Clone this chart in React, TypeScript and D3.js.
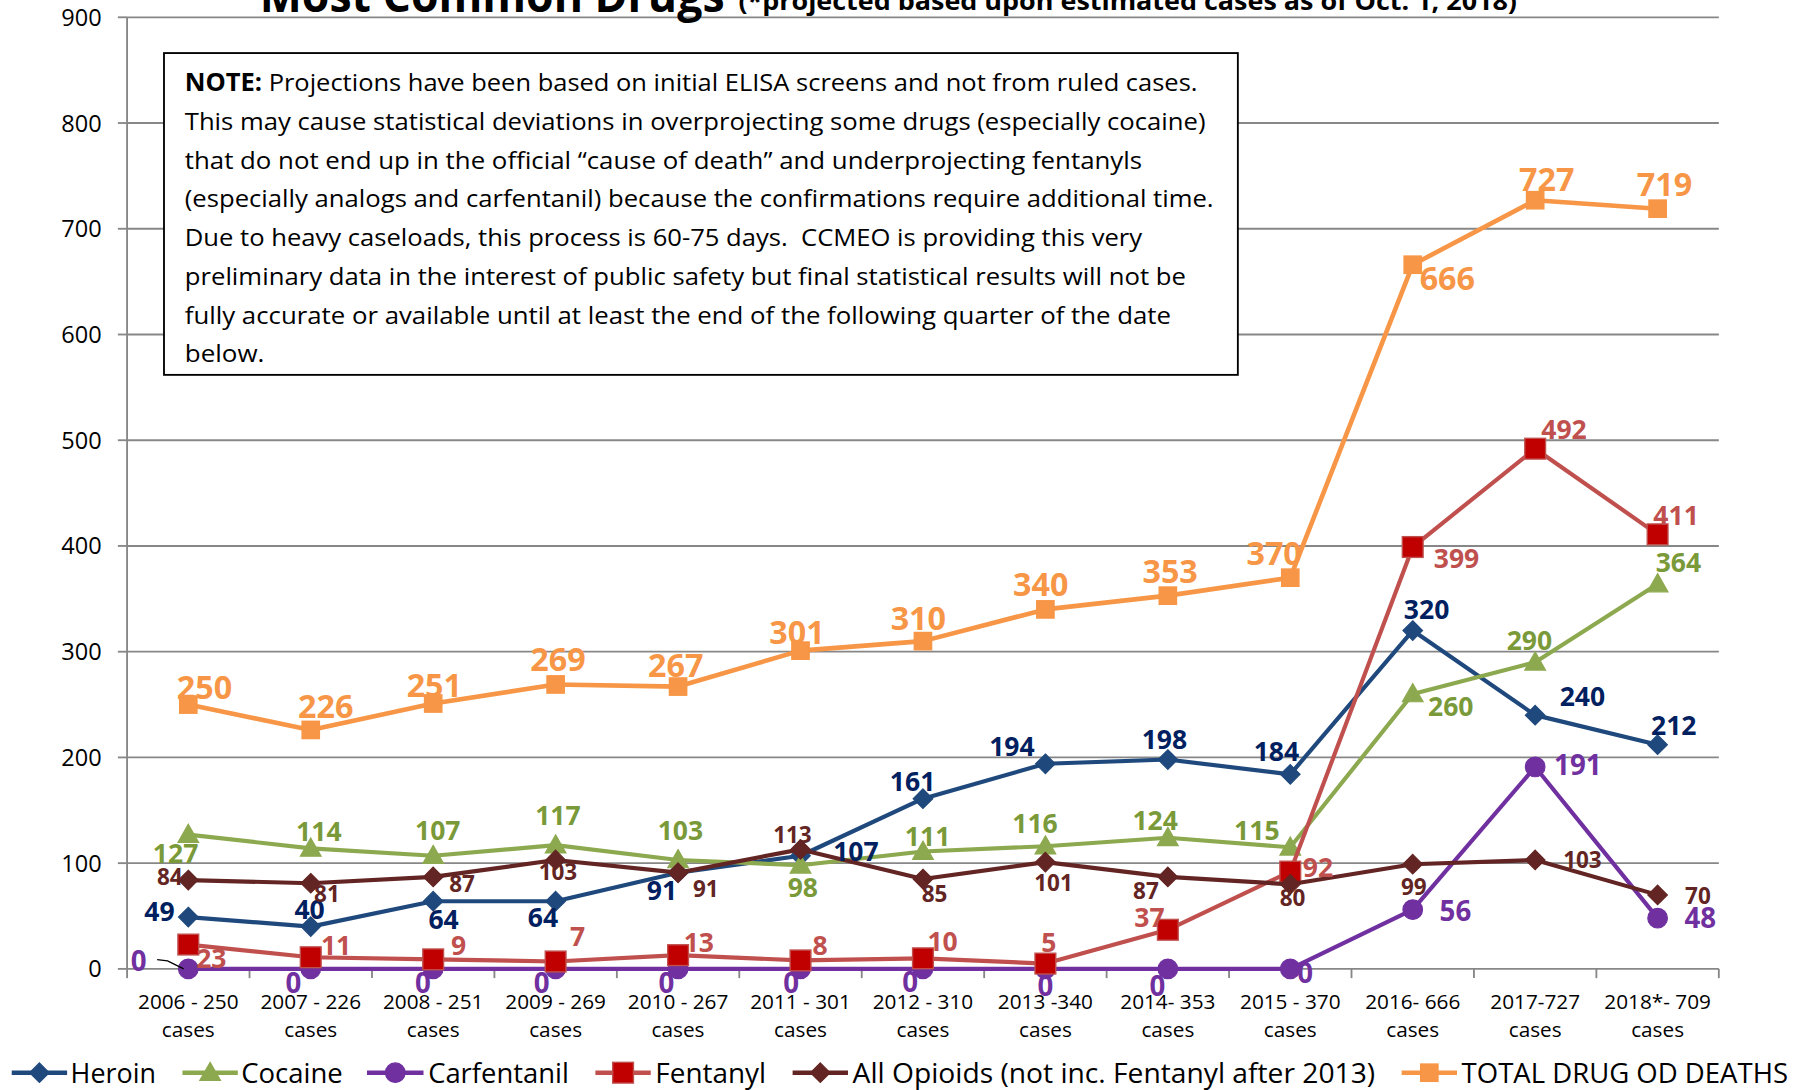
import React from "react";
import * as d3 from "d3";

// ---------- data ----------
const categoryYears = ["2006 - 250", "2007 - 226", "2008 - 251", "2009 - 269", "2010 - 267", "2011 - 301", "2012 - 310", "2013 -340", "2014- 353", "2015 - 370", "2016- 666", "2017-727", "2018*- 709"];
const categorySuffix = "cases";

const heroin = [49, 40, 64, 64, 91, 107, 161, 194, 198, 184, 320, 240, 212];
const cocaine = [127, 114, 107, 117, 103, 98, 111, 116, 124, 115, 260, 290, 364];
const carfentanil = [0, 0, 0, 0, 0, 0, 0, 0, 0, 0, 56, 191, 48];
const fentanyl = [23, 11, 9, 7, 13, 8, 10, 5, 37, 92, 399, 492, 411];
const allOpioids = [84, 81, 87, 103, 91, 113, 85, 101, 87, 80, 99, 103, 70];
const totalDeaths = [250, 226, 251, 269, 267, 301, 310, 340, 353, 370, 666, 727, 719];

const yTicks = [0, 100, 200, 300, 400, 500, 600, 700, 800, 900];

const titleMain = "Most Common Drugs";
const titleSub = "(*projected based upon estimated cases as of Oct. 1, 2018)";

const noteLines = [
  ["NOTE:", " Projections have been based on initial ELISA screens and not from ruled cases."],
  ["", "This may cause statistical deviations in overprojecting some drugs (especially cocaine)"],
  ["", "that do not end up in the official \u201Ccause of death\u201D and underprojecting fentanyls"],
  ["", "(especially analogs and carfentanil) because the confirmations require additional time."],
  ["", "Due to heavy caseloads, this process is 60-75 days.\u00A0 CCMEO is providing this very"],
  ["", "preliminary data in the interest of public safety but final statistical results will not be"],
  ["", "fully accurate or available until at least the end of the following quarter of the date"],
  ["", "below."],
];

// ---------- layout / style (display units of a 1568x945 viewBox) ----------
const noteLineLengths = [878, 885, 830, 892, 830, 868, 855, 69];

const heroinLabelOff = [[-25, -5], [-1, -15], [9, 16], [-11, 14], [-14, 15], [48, -4], [-9, -15], [-29, -15], [-3, -17], [-12, -20], [12, -18], [41, -16], [14, -17]];
const cocaineLabelOff = [[-11, 16], [7, -15], [4, -22], [2, -26], [2, -26], [2, 19], [4, -13], [-9, -20], [-11, -15], [-29, -15], [33, 11], [-5, -19], [18, -19]];
const carfLabelOff = [[-43, -7], [-15, 12], [-9, 12], [-12, 12], [-10, 12], [-8, 12], [-11, 11], [0, 15], [-9, 15], [13, 4], [37, 1], [37, -2], [37, 0]];
const fentLabelOff = [[20, 12], [22, -10], [22, -12], [19, -22], [18, -11], [17, -13], [17, -15], [3, -18], [-16, -11], [24, -4], [38, 10], [25, -17], [16, -16]];
const opioidLabelOff = [[-16, -3], [14, 9], [25, 6], [2, 10], [24, 14], [-7, -13], [10, 13], [7, 18], [-19, 12], [2, 12], [1, 20], [41, 0], [35, 1]];
const totalLabelOff = [[14, -15], [13, -20], [1, -16], [2, -22], [-2, -18], [-3, -16], [-4, -20], [-4, -22], [2, -21], [-14, -21], [30, 12], [10, -18], [6, -21]];

type Shape = "diamond" | "triangle" | "circle" | "square";

interface Series {
  name: string;
  values: number[];
  line: string;
  shape: Shape;
  mSize: number;
  mFill: string;
  mStroke: string;
  label: string;
  fontSize: number;
  offsets: number[][];
  legendX: [number, number, number, number];
}

const series: Series[] = [
  { name: "Heroin", values: heroin, line: "#1F497D", shape: "diamond", mSize: 8.5, mFill: "#1F497D", mStroke: "#1F497D", label: "#002060", fontSize: 23, offsets: heroinLabelOff, legendX: [10, 58, 61, 74] },
  { name: "Cocaine", values: cocaine, line: "#8DA94F", shape: "triangle", mSize: 9, mFill: "#8DA94F", mStroke: "#8DA94F", label: "#7A9A3A", fontSize: 23, offsets: cocaineLabelOff, legendX: [158, 206, 209, 88] },
  { name: "Carfentanil", values: carfentanil, line: "#7030A0", shape: "circle", mSize: 8.5, mFill: "#7030A0", mStroke: "#7030A0", label: "#7030A0", fontSize: 24, offsets: carfLabelOff, legendX: [318, 367, 371, 122] },
  { name: "Fentanyl", values: fentanyl, line: "#C0504D", shape: "square", mSize: 9, mFill: "#C00000", mStroke: "#C0504D", label: "#C0504D", fontSize: 23, offsets: fentLabelOff, legendX: [516, 564, 568, 96] },
  { name: "All Opioids (not inc. Fentanyl after 2013)", values: allOpioids, line: "#632523", shape: "diamond", mSize: 8.5, mFill: "#632523", mStroke: "#632523", label: "#632523", fontSize: 19.5, offsets: opioidLabelOff, legendX: [687, 735, 739, 453] },
  { name: "TOTAL DRUG OD DEATHS", values: totalDeaths, line: "#F79646", shape: "square", mSize: 7.5, mFill: "#F79646", mStroke: "#F79646", label: "#F79646", fontSize: 28, offsets: totalLabelOff, legendX: [1215, 1263, 1267, 283] },
];

const FONT = "'Open Sans', 'Noto Sans', sans-serif";
const GRID = "#878787";

function Marker({ shape, x, y, s, fill, stroke }: { shape: Shape; x: number; y: number; s: number; fill: string; stroke: string }) {
  if (shape === "circle") return <circle cx={x} cy={y} r={s} fill={fill} stroke={stroke} strokeWidth={1} />;
  if (shape === "square") return <rect x={x - s} y={y - s} width={2 * s} height={2 * s} fill={fill} stroke={stroke} strokeWidth={1.2} />;
  if (shape === "diamond")
    return <path d={`M${x},${y - s}L${x + s},${y}L${x},${y + s}L${x - s},${y}Z`} fill={fill} stroke={stroke} strokeWidth={1} />;
  return <path d={`M${x},${y - s}L${x + s},${y + s * 0.75}L${x - s},${y + s * 0.75}Z`} fill={fill} stroke={stroke} strokeWidth={1} />;
}

export default function App() {
  const W = 1568;
  const H = 945;
  const x = d3.scaleBand<string>().domain(categoryYears).range([110, 1490]);
  const y = d3.scaleLinear().domain([0, 900]).range([840, 15]);
  const cx = (i: number) => (x(categoryYears[i]) as number) + x.bandwidth() / 2;
  const lineGen = d3
    .line<number>()
    .x((_, i) => cx(i))
    .y((d) => y(d));
  const x0 = x.range()[0];
  const x1 = x.range()[1];
  const bounds = categoryYears.map((c) => x(c) as number).concat([x1]);

  return (
    <svg
      viewBox={`0 0 ${W} ${H}`}
      width={1809}
      height={1090}
      style={{ position: "absolute", left: 0, top: 0, background: "#fff", fontFamily: FONT }}
    >
      <rect x={0} y={0} width={W} height={H} fill="#fff" />
      {/* gridlines */}
      {yTicks.map((t) => (
        <g key={t}>
          {t > 0 && <line x1={x0} x2={x1} y1={y(t)} y2={y(t)} stroke={GRID} strokeWidth={1.6} />}
          <line x1={x0 - 8} x2={x0} y1={y(t)} y2={y(t)} stroke={GRID} strokeWidth={1.6} />
          <text x={88} y={y(t)} dy="0.36em" textAnchor="end" fontSize={20.4} fill="#000">
            {t}
          </text>
        </g>
      ))}
      {/* axes */}
      <line x1={x0} x2={x0} y1={y(900)} y2={y(0)} stroke={GRID} strokeWidth={1.6} />
      <line x1={x0} x2={x1} y1={y(0)} y2={y(0)} stroke={GRID} strokeWidth={1.6} />
      {bounds.map((b, i) => (
        <line key={i} x1={b} x2={b} y1={y(0)} y2={y(0) + 8} stroke={GRID} strokeWidth={1.6} />
      ))}
      {categoryYears.map((c, i) => (
        <g key={c}>
          <text x={cx(i)} y={868} dy="0.36em" textAnchor="middle" fontSize={18} fill="#000">
            {c}
          </text>
          <text x={cx(i)} y={893} dy="0.36em" textAnchor="middle" fontSize={18} fill="#000">
            {categorySuffix}
          </text>
        </g>
      ))}

      {/* title */}
      <text x={225} y={10} fontSize={40} fontWeight="bold" fill="#000" textLength={403} lengthAdjust="spacingAndGlyphs">
        {titleMain}
      </text>
      <text x={640} y={9} fontSize={21} fontWeight="bold" fill="#000" textLength={675} lengthAdjust="spacingAndGlyphs">
        {titleSub}
      </text>

      {/* note box */}
      <rect x={142} y={46} width={931} height={279} fill="#fff" stroke="#000" strokeWidth={1.6} />
      {noteLines.map((ln, i) => (
        <text key={i} x={160} y={79 + i * 33.6} fontSize={21} fill="#000" textLength={noteLineLengths[i]} lengthAdjust="spacingAndGlyphs">
          {ln[0] && <tspan fontWeight="bold">{ln[0]}</tspan>}
          <tspan>{ln[1]}</tspan>
        </text>
      ))}

      {/* series */}
      {series.map((s) => (
        <g key={s.name}>
          <path d={lineGen(s.values) || ""} fill="none" stroke={s.line} strokeWidth={s.name.startsWith("TOTAL") ? 4 : 3.6} strokeLinejoin="round" />
          {s.values.map((v, i) => (
            <Marker key={i} shape={s.shape} x={cx(i)} y={y(v)} s={s.mSize} fill={s.mFill} stroke={s.mStroke} />
          ))}
        </g>
      ))}

      {/* leader line for first carfentanil label */}
      <path d={`M${cx(0) - 27},${y(0) - 8}L${cx(0) - 18},${y(0) - 7}L${cx(0) - 4},${y(0)}`} fill="none" stroke="#000" strokeWidth={1.2} />

      {/* data labels */}
      {series.map((s) => (
        <g key={s.name + "-lbl"}>
          {s.values.map((v, i) => (
            <text
              key={i}
              x={cx(i) + s.offsets[i][0]}
              y={y(v) + s.offsets[i][1]}
              dy="0.36em"
              textAnchor="middle"
              fontSize={s.fontSize}
              fontWeight="bold"
              fill={s.label}
            >
              {v}
            </text>
          ))}
        </g>
      ))}

      {/* legend */}
      {series.map((s) => {
        const [lx1, lx2, tx, tl] = s.legendX;
        const mx = (lx1 + lx2) / 2;
        return (
          <g key={s.name + "-leg"}>
            <line x1={lx1} x2={lx2} y1={930} y2={930} stroke={s.line} strokeWidth={4} />
            <Marker shape={s.shape} x={mx} y={930} s={s.mSize} fill={s.mFill} stroke={s.mStroke} />
            <text x={tx} y={930} dy="0.36em" fontSize={24} fill="#000" textLength={tl} lengthAdjust="spacingAndGlyphs">
              {s.name}
            </text>
          </g>
        );
      })}
    </svg>
  );
}
